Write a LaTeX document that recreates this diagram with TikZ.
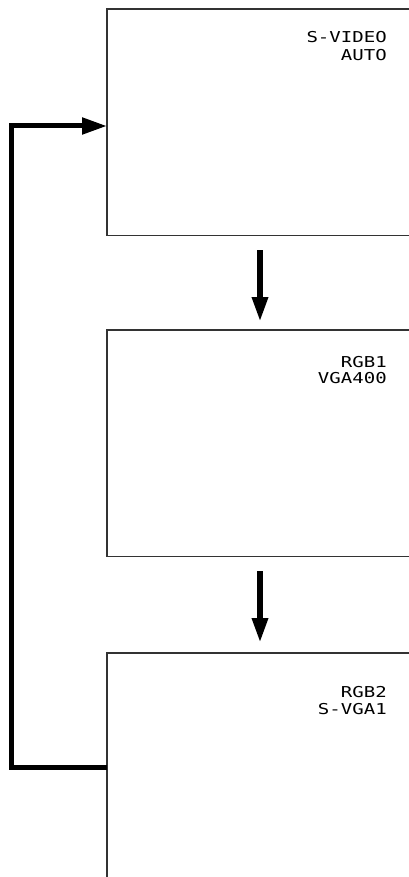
\documentclass[tikz,border=0pt]{standalone}
\usepackage{fontspec}
\usetikzlibrary{arrows.meta}
\newfontfamily\lcdfont{DejaVu Sans Mono}[FakeStretch=1.27]
\begin{document}
\begin{tikzpicture}[x=1pt,y=-1pt,
  boxnode/.style={minimum width=302pt,minimum height=226pt,anchor=north west,inner sep=0pt,draw=none},
  boxline/.style={line width=1.5pt,draw=black!80},
  lbl/.style={font=\lcdfont\fontsize{15}{17}\selectfont,anchor=base east,inner sep=0pt},
  downarr/.style={line width=6pt,-{Triangle[length=25pt,width=15pt]}},
  looparr/.style={line width=5pt,line join=miter,-{Triangle[length=25pt,width=16pt]}}]
\useasboundingbox (0,0) rectangle (409,877);
% boxes
\node[boxnode] (b1) at (107,9) {};
\node[boxnode] (b2) at (107,330) {};
\node[boxnode] (b3) at (107,653) {};
\coordinate (bottomedge) at (0,877);
\draw[boxline] (b1.north east) -- (b1.north west) -- (b1.south west) -- (b1.south east);
\draw[boxline] (b2.north east) -- (b2.north west) -- (b2.south west) -- (b2.south east);
\draw[boxline] (b3.north east) -- (b3.north west) -- (b3.west |- bottomedge);
% labels
\node[lbl] (t1a) at (387,43) {S-VIDEO};
\node[lbl] (t1b) at (387,61) {AUTO};
\node[lbl] (t2a) at (387,367) {RGB1};
\node[lbl] (t2b) at (387,383) {VGA400};
\node[lbl] (t3a) at (387,697) {RGB2};
\node[lbl] (t3b) at (387,714) {S-VGA1};
% down arrows
\coordinate (ax) at (260,0);
\draw[downarr,shorten <=15pt,shorten >=8pt] (b1.south -| ax) -- (b2.north -| ax);
\draw[downarr,shorten <=15pt,shorten >=10pt] (b2.south -| ax) -- (b3.north -| ax);
% loop back
\coordinate (ly) at (0,767);
\coordinate (ty) at (0,126);
\coordinate (lx) at (11,0);
\draw[looparr] (b3.west |- ly) -- (lx |- ly) -- (lx |- ty) -- (b1.west |- ty);
\end{tikzpicture}
\end{document}
